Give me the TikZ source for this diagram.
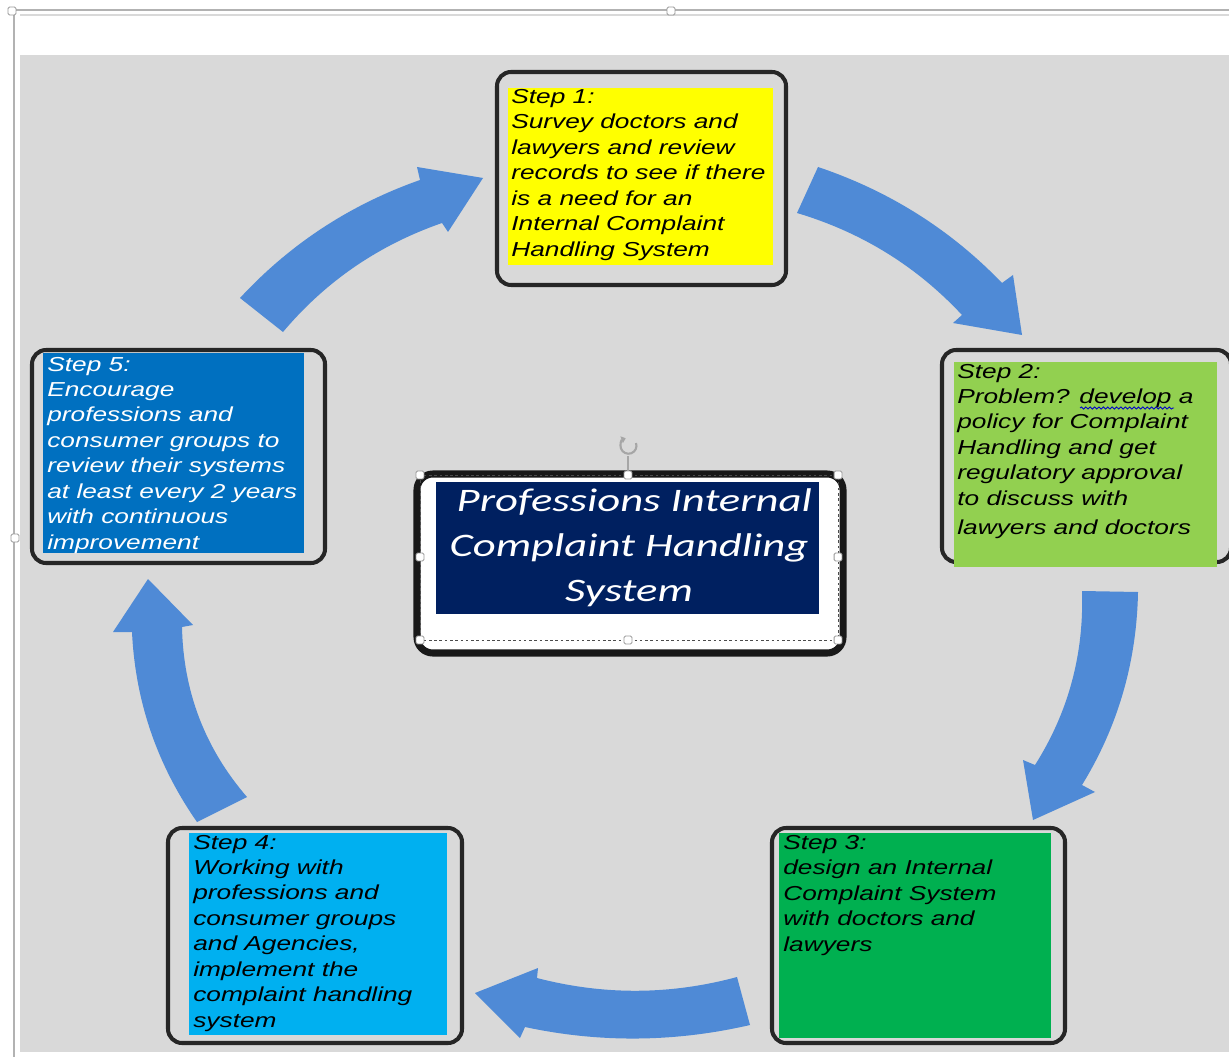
\documentclass[tikz,border=0pt]{standalone}
\usepackage{fontspec}
\usetikzlibrary{calc,arrows.meta,decorations.pathmorphing}
\newfontfamily\stepfont[FakeStretch=1.3]{Liberation Sans}
\newfontfamily\titlefont[FakeStretch=1.36]{Carlito}
\definecolor{bggray}{HTML}{D9D9D9}
\definecolor{arrowblue}{RGB}{79,138,214}
\definecolor{stepyellow}{HTML}{FFFF00}
\definecolor{steplime}{HTML}{92D050}
\definecolor{stepgreen}{HTML}{00B050}
\definecolor{stepcyan}{HTML}{00B0F0}
\definecolor{stepblue}{HTML}{0070C0}
\definecolor{titlenavy}{HTML}{002060}
\def\cyclearrow(#1)(#2)(#3)(#4)(#5)(#6)(#7)(#8)(#9){\fill[arrowblue] (#1) .. controls ($(#1)!0.667!(#2)$) and ($(#3)!0.667!(#2)$) .. (#3) -- (#4) -- (#5) -- (#6) -- (#7) .. controls ($(#7)!0.667!(#8)$) and ($(#9)!0.667!(#8)$) .. (#9) -- cycle;}
\tikzset{
  stepbox/.style={draw=black!85, line width=2.3pt, rounded corners=8pt},
  steptext/.style={anchor=base west, align=left, inner sep=0pt, font=\stepfont\itshape\fontsize{11.5}{14.46}\selectfont},
  handle/.style={draw=black!40, fill=white, line width=0.5pt, minimum size=4.5pt, inner sep=0pt, rounded corners=0.8pt}
}
\begin{document}
\begin{tikzpicture}[x=0.02cm, y=-0.02cm]
	%%%%% START %%%%%
	\useasboundingbox (0,0) rectangle (1229,1057);
	\clip (0,0) rectangle (1229,1057);
	\fill[white] (0,0) rectangle (1229,1057);
	\fill[bggray] (20,55) rectangle (1229,1052);
	
	\draw[black!30, line width=0.8pt] (12,10) -- (1229,10);
	\draw[black!15, line width=0.6pt] (20,15) -- (1229,15);
	\draw[black!30, line width=0.8pt] (14,10) -- (14,1057);
	\node[handle] (fr1) at (12,11) {};
	\node[handle] (fr2) at (671,11) {};
	\node[handle] (fr3) at (15,538) {};
	
	\cyclearrow(240,298)(315,217)(420,180)(417,167)(483,178)(448,232)(442,223)(347,256)(283,332)
	\cyclearrow(818,167)(925,203)(1002,283)(1013,275)(1022,335)(953,323)(962,315)(894,242)(797,213)
	\cyclearrow(1138,592)(1136,697)(1082,785)(1095,792)(1033,820)(1023,760)(1035,765)(1085,686)(1082,591)
	\cyclearrow(750,1025)(637,1051)(525,1027)(520,1038)(475,993)(538,968)(537,978)(637,1004)(737,977)
	\cyclearrow(197,822)(137,736)(132,632)(113,632)(148,579)(193,625)(182,627)(184,724)(247,797)
	
	\draw[stepbox] (497,72) rectangle (786,285);
	\fill[stepyellow] (508,88) rectangle (773,265);
	\node[steptext] (s1) at (511,256) {Step 1:\\Survey doctors and\\lawyers and review\\records to see if there\\is a need for an\\Internal Complaint\\Handling System};
	
	\draw[stepbox] (942,350) rectangle (1231,562);
	\fill[steplime] (954,362) rectangle (1217,567);
	\node[steptext] (s2) at (957,534) {Step 2:\\Problem? develop a\\policy for Complaint\\Handling and get\\regulatory approval\\to discuss with\\[2pt]lawyers and doctors};
	\draw[blue!80!black, line width=0.5pt, decorate, decoration={snake, amplitude=0.6pt, segment length=2.5pt}] (1080,408) -- (1174,408);
	
	\draw[stepbox] (772,828) rectangle (1065,1043);
	\fill[stepgreen] (779,833) rectangle (1051,1038);
	\node[steptext] (s3) at (783,951) {Step 3:\\design an Internal\\Complaint System\\with doctors and\\lawyers};
	
	\draw[stepbox] (168,828) rectangle (462,1043);
	\fill[stepcyan] (189,833) rectangle (447,1035);
	\node[steptext] (s4) at (193,1027) {Step 4:\\Working with\\professions and\\consumer groups\\and Agencies,\\implement the\\complaint handling\\system};
	
	\draw[stepbox] (32,350) rectangle (325,563);
	\fill[stepblue] (43,353) rectangle (304,553);
	\node[steptext, text=white] (s5) at (47,549) {Step 5:\\Encourage\\professions and\\consumer groups to\\review their systems\\at least every 2 years\\with continuous\\improvement};
	
	% centre
	\draw[black!90, line width=4pt, rounded corners=9pt, fill=white] (417,474) rectangle (843,653);
	\fill[titlenavy] (436,482) rectangle (819,614);
	\node[text=white, align=center, anchor=base, inner sep=0pt, font=\titlefont\itshape\fontsize{18.7}{25.5}\selectfont] (title) at (629,601) {\hspace*{6pt}Professions Internal\\Complaint Handling\\System};
	\draw[black!70, line width=0.5pt, dash pattern=on 1.5pt off 1.5pt] (420,475) rectangle (838,640);
	\draw[black!35, line width=0.6pt] (628,456) -- (628,475);
	\draw[black!35, line width=1.2pt, -{Triangle[length=2.5pt,width=4pt]}] (636,443) arc[start angle=-20, end angle=250, radius=8];
	\node[handle] (h1) at (420,475) {};
	\node[handle] (h2) at (628,475) {};
	\node[handle] (h3) at (838,475) {};
	\node[handle] (h4) at (420,557) {};
	\node[handle] (h5) at (838,557) {};
	\node[handle] (h6) at (420,640) {};
	\node[handle] (h7) at (628,640) {};
	\node[handle] (h8) at (838,640) {};
	
	%%%%% END %%%%%
\end{tikzpicture}
\end{document}
